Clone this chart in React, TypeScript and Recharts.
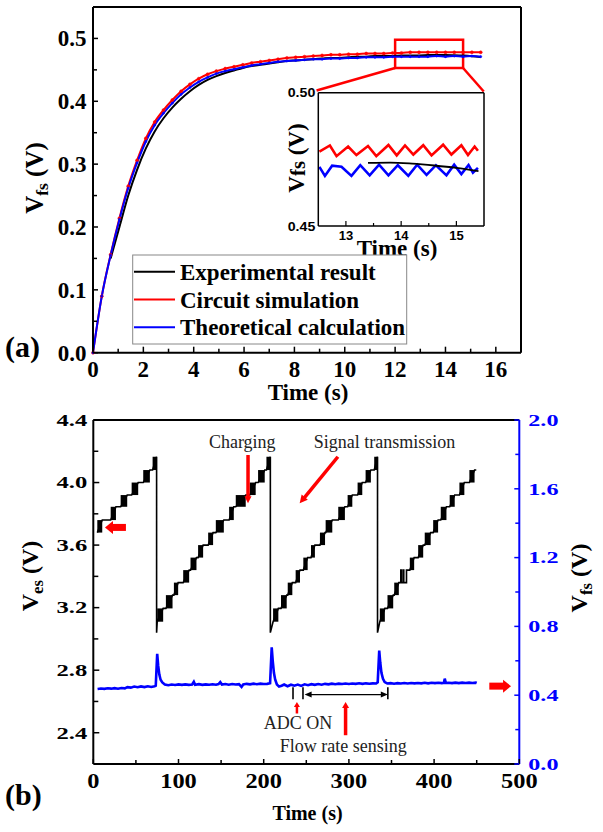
import React from 'react';
import {
  ComposedChart,
  Line,
  XAxis,
  YAxis,
  ReferenceArea,
  ReferenceLine,
  ReferenceDot,
} from 'recharts';

const serif = '"Liberation Serif", "Times New Roman", serif';
const sans = '"Liberation Sans", Arial, sans-serif';

// ---------- panel (a): step response of Vfs ----------
const tA = [0, 0.35, 0.7, 1.05, 1.4, 1.75, 2.1, 2.45, 2.8, 3.15, 3.5, 3.85, 4.2, 4.55, 4.9, 5.25, 5.6, 5.95, 6.3, 6.65, 7.0, 7.35, 7.7, 8.05, 8.4, 8.75, 9.1, 9.45, 9.8, 10.15, 10.5, 10.85, 11.2, 11.55, 11.9, 12.25, 12.6, 12.95, 13.3, 13.65, 14.0, 14.35, 14.7, 15.05, 15.4];
const experimental = [null, null, 0.150, 0.200, 0.250, 0.291, 0.325, 0.352, 0.373, 0.390, 0.404, 0.416, 0.426, 0.434, 0.440, 0.445, 0.449, 0.453, 0.456, 0.458, 0.460, 0.462, 0.464, 0.465, 0.466, 0.467, 0.468, 0.469, 0.469, 0.470, 0.471, 0.471, 0.472, 0.472, 0.472, 0.473, 0.473, 0.473, 0.4735, 0.4737, 0.4737, 0.4733, 0.4727, 0.4718, 0.4706];
const circuit = [0, 0.090, 0.156, 0.214, 0.265, 0.306, 0.341, 0.367, 0.386, 0.402, 0.416, 0.427, 0.436, 0.443, 0.448, 0.452, 0.455, 0.458, 0.461, 0.463, 0.465, 0.467, 0.469, 0.470, 0.471, 0.472, 0.473, 0.474, 0.474, 0.475, 0.475, 0.476, 0.476, 0.476, 0.477, 0.477, 0.478, 0.478, 0.478, 0.478, 0.478, 0.478, 0.478, 0.478, 0.478];
const theoretical = [0, 0.090, 0.155, 0.212, 0.262, 0.302, 0.336, 0.362, 0.381, 0.397, 0.411, 0.422, 0.431, 0.438, 0.444, 0.448, 0.451, 0.454, 0.457, 0.459, 0.461, 0.463, 0.464, 0.465, 0.466, 0.467, 0.467, 0.468, 0.468, 0.469, 0.469, 0.470, 0.470, 0.470, 0.471, 0.471, 0.471, 0.471, 0.471, 0.472, 0.471, 0.472, 0.471, 0.472, 0.471];

const xTicksA = [0, 1, 2, 3, 4, 5, 6, 7, 8, 9, 10, 11, 12, 13, 14, 15, 16];
const yTicksA = [0, 0.05, 0.1, 0.15, 0.2, 0.25, 0.3, 0.35, 0.4, 0.45, 0.5];

// inset (zoom of 12.5 - 15.5 s)
const insetCircuit = [[12.52, 0.4779], [12.71, 0.4802], [12.83, 0.4762], [13.04, 0.4798], [13.19, 0.4766], [13.40, 0.4800], [13.55, 0.4762], [13.77, 0.4804], [13.92, 0.4765], [14.07, 0.4802], [14.22, 0.4768], [14.40, 0.4803], [14.55, 0.4765], [14.76, 0.4805], [14.91, 0.4768], [15.09, 0.4803], [15.21, 0.4766], [15.33, 0.4798], [15.39, 0.4782]];
const insetTheory = [[12.52, 0.4722], [12.62, 0.4688], [12.75, 0.4726], [12.92, 0.4722], [13.10, 0.4688], [13.26, 0.4728], [13.43, 0.4690], [13.60, 0.4730], [13.77, 0.4690], [13.94, 0.4728], [14.13, 0.4688], [14.29, 0.4730], [14.46, 0.4692], [14.63, 0.4728], [14.82, 0.4690], [14.96, 0.4730], [15.09, 0.4695], [15.22, 0.4729], [15.30, 0.4700], [15.39, 0.4718]];
const insetExperimental = [[13.4, 0.4737], [13.8, 0.4738], [14.2, 0.4734], [14.6, 0.4727], [15.0, 0.4718], [15.4, 0.4706]];
const insetXTicks = [13, 13.5, 14, 14.5, 15];
const insetYTicks = [0.45, 0.5];

const zoomBox = { x1: 12.0, x2: 14.7, y1: 0.453, y2: 0.498 };
const zoomLinkLeft = [{ x: 12.0, y: 0.453 }, { x: 8.88, y: 0.4172 }];
const zoomLinkRight = [{ x: 14.7, y: 0.453 }, { x: 15.52, y: 0.4156 }];

const seriesA = [
  { key: 'experimental', name: 'Experimental result', color: '#000000' },
  { key: 'circuit', name: 'Circuit simulation', color: '#ff0000' },
  { key: 'theoretical', name: 'Theoretical calculation', color: '#0000ff' },
];

// ---------- panel (b): Ves staircase and Vfs ----------
// [start, end, low, high] of each charging step
const vesSteps = [
  [4.7, 10.5, 3.68, 3.76], [20.4, 26.6, 3.76, 3.845], [32.1, 39.8, 3.845, 3.92], [45.0, 52.7, 3.92, 4.0], [58.6, 66.4, 4.0, 4.08], [69.6, 74.3, 4.08, 4.165],
  [75.0, 82.0, 3.11, 3.195], [85.2, 93.0, 3.195, 3.28], [94.6, 99.6, 3.28, 3.36], [105.5, 112.5, 3.36, 3.44], [114.1, 121.1, 3.44, 3.52], [123.0, 128.9, 3.52, 3.6], [134.8, 140.6, 3.6, 3.68], [143.8, 153.2, 3.68, 3.76], [159.4, 164.9, 3.76, 3.845], [167.2, 178.9, 3.845, 3.92], [183.6, 190.6, 3.92, 4.0], [193.4, 201.2, 4.0, 4.08], [203.2, 207.8, 4.08, 4.165],
  [211.0, 217.2, 3.11, 3.195], [220.3, 227.0, 3.195, 3.28], [228.2, 233.6, 3.28, 3.36], [237.5, 242.6, 3.36, 3.44], [246.5, 251.6, 3.44, 3.52], [255.5, 260.1, 3.52, 3.6], [266.0, 272.0, 3.6, 3.68], [272.7, 280.5, 3.68, 3.76], [287.5, 295.3, 3.76, 3.845], [298.5, 304.0, 3.845, 3.92], [310.2, 315.7, 3.92, 4.0], [319.6, 325.8, 4.0, 4.08], [329.7, 333.6, 4.08, 4.165],
  [336.3, 342.2, 3.11, 3.195], [345.3, 352.0, 3.195, 3.28], [353.2, 358.6, 3.28, 3.36], [371.5, 376.6, 3.44, 3.52], [381.3, 387.2, 3.52, 3.6], [389.0, 396.0, 3.6, 3.68], [398.9, 404.7, 3.68, 3.76], [407.8, 414.5, 3.76, 3.845], [418.3, 424.2, 3.845, 3.92], [429.7, 435.5, 3.92, 4.0], [441.4, 447.5, 4.0, 4.08],
];
// [time, top, bottom] of each discharge
const vesDrops = [[74.3, 4.165, 3.04], [207.8, 4.165, 3.04], [333.6, 4.165, 3.04]];
// ringing between two levels in the last cycle
const vesGlitch = [[360.9, 3.36], [360.9, 3.44], [361.6, 3.44], [361.6, 3.36], [363.7, 3.36], [363.7, 3.44], [364.4, 3.44], [364.4, 3.36], [367.6, 3.36], [367.6, 3.44]];
const vesEnd = [449.5, 4.08];

const vfsB = [[5, 0.436], [9, 0.439], [13, 0.437], [17, 0.440], [21, 0.438], [25, 0.441], [29, 0.438], [33, 0.442], [37, 0.440], [40, 0.447], [44, 0.444], [48, 0.450], [52, 0.446], [56, 0.451], [60, 0.447], [64, 0.452], [68, 0.448], [72, 0.452], [73.3, 0.455], [75.0, 0.640], [76.2, 0.570], [77.5, 0.520], [79, 0.490], [81, 0.474], [84, 0.462], [88, 0.458], [92, 0.462], [96, 0.459], [100, 0.463], [104, 0.460], [108, 0.463], [112, 0.460], [116, 0.462], [118, 0.478], [119.5, 0.461], [124, 0.464], [128, 0.460], [132, 0.463], [136, 0.461], [140, 0.464], [144, 0.461], [147, 0.465], [149, 0.476], [151, 0.462], [155, 0.465], [159, 0.461], [163, 0.465], [167, 0.462], [171, 0.464], [174, 0.448], [176, 0.462], [180, 0.466], [184, 0.463], [188, 0.467], [192, 0.464], [196, 0.467], [200, 0.465], [204, 0.466], [207.5, 0.470], [209.4, 0.678], [210.6, 0.600], [212, 0.530], [213.5, 0.490], [215.5, 0.462], [218, 0.450], [221, 0.455], [224, 0.462], [228, 0.452], [232, 0.461], [236, 0.455], [240, 0.462], [244, 0.454], [248, 0.463], [252, 0.458], [256, 0.464], [260, 0.460], [264, 0.465], [268, 0.461], [272, 0.466], [276, 0.463], [280, 0.467], [284, 0.464], [288, 0.467], [292, 0.465], [296, 0.468], [300, 0.465], [304, 0.468], [308, 0.466], [312, 0.469], [316, 0.466], [320, 0.469], [324, 0.467], [328, 0.469], [332, 0.468], [333.8, 0.475], [335.6, 0.659], [336.8, 0.590], [338.2, 0.530], [340, 0.495], [342, 0.476], [345, 0.468], [349, 0.470], [353, 0.467], [357, 0.470], [361, 0.468], [365, 0.471], [369, 0.468], [373, 0.471], [377, 0.469], [381, 0.471], [385, 0.469], [389, 0.472], [393, 0.469], [397, 0.472], [401, 0.470], [405, 0.472], [409, 0.470], [411.5, 0.472], [412.5, 0.496], [413.8, 0.471], [417, 0.472], [421, 0.470], [425, 0.473], [429, 0.470], [433, 0.473], [437, 0.471], [441, 0.473], [445, 0.471], [449, 0.473], [450, 0.471]];

const xTicksB = [0, 50, 100, 150, 200, 250, 300, 350, 400, 450, 500];
const yTicksBLeft = [2.4, 2.6, 2.8, 3.0, 3.2, 3.4, 3.6, 3.8, 4.0, 4.2, 4.4];
const yTicksBRight = [0, 0.2, 0.4, 0.6, 0.8, 1.0, 1.2, 1.4, 1.6, 1.8, 2.0];

// annotations of panel (b), in data units of the left axis
const notesB = [
  { t: 174.8, v: 4.221, text: 'Charging' },
  { t: 341.8, v: 4.221, text: 'Signal transmission' },
  { t: 240.2, v: 2.427, text: 'ADC ON' },
  { t: 293.5, v: 2.277, text: 'Flow rate sensing' },
];
const redArrowsB = [
  { from: [181.6, 4.176], to: [181.6, 3.867], w: 3.5, hl: 7, hw: 7 },
  { from: [287.1, 4.165], to: [242.2, 3.867], w: 3.5, hl: 8, hw: 8 },
  { from: [38.3, 3.713], to: [13.7, 3.713], w: 7, hl: 8, hw: 13 },
  { from: [464.8, 2.698], to: [490.3, 2.698], w: 7, hl: 8, hw: 13 },
  { from: [239, 2.523], to: [239, 2.597], w: 2.5, hl: 5, hw: 6 },
  { from: [296.1, 2.384], to: [296.1, 2.597], w: 3.5, hl: 6, hw: 7 },
];
const markerTimes = [234.4, 246.1, 345.7];
const sensingSpan = [248, 345.7];

// ---------- helpers ----------
const rowsA = tA.map((t, i) => ({
  t,
  experimental: experimental[i],
  circuit: circuit[i],
  theoretical: theoretical[i],
}));
const toPts = (arr: number[][]) => arr.map(([t, v]) => ({ t, v }));

const vesLine = (() => {
  const pts: { t: number; v: number }[] = [];
  vesSteps.forEach(([a, b, lo, hi]) => {
    pts.push({ t: a, v: lo }, { t: b, v: hi });
  });
  vesDrops.forEach(([t, top, bot]) => {
    pts.push({ t, v: top }, { t, v: bot });
  });
  vesGlitch.forEach(([t, v]) => pts.push({ t, v }));
  pts.push({ t: vesEnd[0], v: vesEnd[1] });
  return pts.sort((p, q) => p.t - q.t);
})();

interface TickStyle {
  side: 'bottom' | 'left' | 'right';
  major: (v: number) => boolean;
  fmt: (v: number) => string;
  fontSize: number;
  font: string;
  color: string;
  lineColor: string;
  majorLen: number;
  minorLen: number;
  offset: number;
  sx?: number;
  lw?: number;
}

function makeTick(s: TickStyle) {
  return (props: any) => {
    const { x, y, payload } = props;
    const v = Number(payload.value);
    const isMajor = s.major(v);
    const len = isMajor ? s.majorLen : s.minorLen;
    const sx = s.sx ?? 1;
    const txt = { fontFamily: s.font, fontSize: s.fontSize, fontWeight: 700, fill: s.color };
    if (s.side === 'bottom') {
      return (
        <g>
          {len > 0 && <line x1={x} y1={y} x2={x} y2={y - len} stroke={s.lineColor} strokeWidth={s.lw ?? 1.5} />}
          {isMajor && (
            <text transform={`translate(${x},${y + s.offset}) scale(${sx},1)`} textAnchor="middle" {...txt}>
              {s.fmt(v)}
            </text>
          )}
        </g>
      );
    }
    const dir = s.side === 'left' ? 1 : -1;
    return (
      <g>
        {len > 0 && <line x1={x} y1={y} x2={x + dir * len} y2={y} stroke={s.lineColor} strokeWidth={s.lw ?? 1.5} />}
        {isMajor && (
          <text
            transform={`translate(${x - dir * s.offset},${y}) scale(${sx},1)`}
            textAnchor={s.side === 'left' ? 'end' : 'start'}
            dy="0.34em"
            {...txt}
          >
            {s.fmt(v)}
          </text>
        )}
      </g>
    );
  };
}

const arrowShape = (w: number, hl: number, hw: number, color: string, both = false) => (p: any) => {
  const { x1, y1, x2, y2 } = p;
  const dx = x2 - x1;
  const dy = y2 - y1;
  const L = Math.hypot(dx, dy) || 1;
  const ux = dx / L;
  const uy = dy / L;
  const nx = -uy;
  const ny = ux;
  const head = (tx: number, ty: number, sx: number, sy: number) => {
    const bx = tx - sx * hl;
    const by = ty - sy * hl;
    return `${tx},${ty} ${bx + nx * hw / 2},${by + ny * hw / 2} ${bx - nx * hw / 2},${by - ny * hw / 2}`;
  };
  const sx0 = both ? x1 + ux * hl * 0.9 : x1;
  const sy0 = both ? y1 + uy * hl * 0.9 : y1;
  return (
    <g>
      <line x1={sx0} y1={sy0} x2={x2 - ux * hl * 0.9} y2={y2 - uy * hl * 0.9} stroke={color} strokeWidth={w} />
      <polygon points={head(x2, y2, ux, uy)} fill={color} />
      {both && <polygon points={head(x1, y1, -ux, -uy)} fill={color} />}
    </g>
  );
};

const noteShape = (text: string) => (p: any) => (
  <text x={p.cx} y={p.cy} textAnchor="middle" fontFamily={serif} fontSize={18} fill="#222">
    {text}
  </text>
);

const axisLine = { stroke: '#000', strokeWidth: 2 };

// ---------- charts ----------
function PanelA() {
  return (
    <ComposedChart width={603} height={400} data={rowsA} margin={{ top: 7, right: 82, bottom: 17.3, left: 33 }}>
      <XAxis
        type="number"
        dataKey="t"
        domain={[0, 17]}
        ticks={xTicksA}
        interval={0}
        height={30}
        tickSize={0}
        tickMargin={0}
        tickLine={false}
        axisLine={axisLine}
        tick={makeTick({ side: 'bottom', major: (v) => v % 2 === 0, fmt: (v) => String(v), fontSize: 23, font: serif, color: '#000', lineColor: '#000', majorLen: 6, minorLen: 4, offset: 24, sx: 1 })}
      />
      <YAxis
        type="number"
        domain={[0, 0.55]}
        ticks={yTicksA}
        interval={0}
        width={60}
        tickSize={0}
        tickMargin={0}
        tickLine={false}
        axisLine={axisLine}
        tick={makeTick({ side: 'left', major: (v) => Math.round(v * 100) % 10 === 0, fmt: (v) => v.toFixed(1), fontSize: 23, font: serif, color: '#000', lineColor: '#000', majorLen: 5, minorLen: 4, offset: 6.5 })}
      />
      <ReferenceLine y={0.55} stroke="#000" strokeWidth={2} ifOverflow="visible" />
      <ReferenceLine x={17} stroke="#000" strokeWidth={2} ifOverflow="visible" />
      <Line type="monotone" dataKey="experimental" stroke="#000" strokeWidth={2} dot={false} isAnimationActive={false} />
      <Line type="monotone" dataKey="circuit" stroke="#ff0000" strokeWidth={2} dot={{ r: 1.5, fill: '#ff0000', stroke: '#ff0000', strokeWidth: 0.5 }} isAnimationActive={false} />
      <Line type="monotone" dataKey="theoretical" stroke="#0000ff" strokeWidth={2} dot={{ r: 1.1, fill: '#0000ff', stroke: '#0000ff', strokeWidth: 0.5 }} isAnimationActive={false} />
      <ReferenceArea {...zoomBox} fill="none" stroke="#ff0000" strokeWidth={2.5} ifOverflow="visible" />
      <ReferenceLine segment={zoomLinkLeft} stroke="#ff0000" strokeWidth={2.5} ifOverflow="visible" />
      <ReferenceLine segment={zoomLinkRight} stroke="#ff0000" strokeWidth={2.5} ifOverflow="visible" />
    </ComposedChart>
  );
}

function InsetA() {
  return (
    <ComposedChart width={240} height={170} margin={{ top: 12.7, right: 14, bottom: 4, left: 20.3 }}>
      <XAxis
        type="number"
        dataKey="t"
        domain={[12.5, 15.5]}
        ticks={insetXTicks}
        interval={0}
        height={20}
        tickSize={0}
        tickMargin={0}
        tickLine={false}
        axisLine={{ stroke: '#000', strokeWidth: 1.5 }}
        tick={makeTick({ side: 'bottom', major: (v) => Number.isInteger(v), fmt: (v) => String(v), fontSize: 13, font: sans, color: '#000', lineColor: '#000', majorLen: 5, minorLen: 3, offset: 13.8, lw: 1.2 })}
      />
      <YAxis
        type="number"
        domain={[0.45, 0.5]}
        ticks={insetYTicks}
        interval={0}
        width={40}
        tickSize={0}
        tickMargin={0}
        tickLine={false}
        axisLine={{ stroke: '#000', strokeWidth: 1.5 }}
        tick={makeTick({ side: 'left', major: () => true, fmt: (v) => v.toFixed(2), fontSize: 13.5, font: sans, color: '#000', lineColor: '#000', majorLen: 0, minorLen: 0, offset: 3, sx: 1.05 })}
      />
      <ReferenceLine y={0.5} stroke="#000" strokeWidth={1.5} ifOverflow="visible" />
      <ReferenceLine x={15.5} stroke="#000" strokeWidth={1.5} ifOverflow="visible" />
      <Line data={toPts(insetCircuit)} dataKey="v" type="linear" stroke="#ff0000" strokeWidth={2.6} dot={false} isAnimationActive={false} />
      <Line data={toPts(insetTheory)} dataKey="v" type="linear" stroke="#0000ff" strokeWidth={2.6} dot={false} isAnimationActive={false} />
      <Line data={toPts(insetExperimental)} dataKey="v" type="monotone" stroke="#000" strokeWidth={1.8} dot={false} isAnimationActive={false} />
    </ComposedChart>
  );
}

function PanelB() {
  return (
    <ComposedChart width={603} height={432} margin={{ top: 20, right: 23.7, bottom: 38, left: 33.3 }}>
      <XAxis
        type="number"
        dataKey="t"
        domain={[0, 500]}
        ticks={xTicksB}
        interval={0}
        height={30}
        tickSize={0}
        tickMargin={0}
        tickLine={false}
        axisLine={axisLine}
        tick={makeTick({ side: 'bottom', major: (v) => v % 100 === 0, fmt: (v) => String(v), fontSize: 20, font: serif, color: '#000', lineColor: '#000', majorLen: 5, minorLen: 4, offset: 24.3, sx: 1.22 })}
      />
      <YAxis
        yAxisId="left"
        type="number"
        domain={[2.2, 4.4]}
        ticks={yTicksBLeft}
        interval={0}
        width={60}
        tickSize={0}
        tickMargin={0}
        tickLine={false}
        axisLine={axisLine}
        tick={makeTick({ side: 'left', major: (v) => Math.round(v * 10) % 4 === 0, fmt: (v) => v.toFixed(1), fontSize: 17, font: serif, color: '#000', lineColor: '#000', majorLen: 6, minorLen: 5, offset: 6, sx: 1.45 })}
      />
      <YAxis
        yAxisId="right"
        orientation="right"
        type="number"
        domain={[0, 2]}
        ticks={yTicksBRight}
        interval={0}
        width={60}
        tickSize={0}
        tickMargin={0}
        tickLine={false}
        axisLine={{ stroke: '#0000ff', strokeWidth: 2 }}
        tick={makeTick({ side: 'right', major: (v) => Math.round(v * 10) % 4 === 0, fmt: (v) => v.toFixed(1), fontSize: 17, font: serif, color: '#0000ff', lineColor: '#0000ff', majorLen: 5, minorLen: 4, offset: 9, sx: 1.42 })}
      />
      <ReferenceLine yAxisId="left" y={4.4} stroke="#000" strokeWidth={2} ifOverflow="visible" />
      {vesSteps.map(([a, b, lo, hi], i) => (
        <ReferenceArea key={`s${i}`} yAxisId="left" x1={a} x2={b} y1={lo} y2={hi} fill="#000" fillOpacity={1} stroke="none" />
      ))}
      <Line data={vesLine} yAxisId="left" dataKey="v" type="linear" stroke="#000" strokeWidth={1.6} dot={false} isAnimationActive={false} />
      <Line data={toPts(vfsB)} yAxisId="right" dataKey="v" type="linear" stroke="#0000ff" strokeWidth={2.6} dot={false} isAnimationActive={false} />
      {markerTimes.map((t, i) => (
        <ReferenceLine key={`m${i}`} yAxisId="left" segment={[{ x: t, y: 2.691 }, { x: t, y: 2.614 }]} stroke="#000" strokeWidth={1.6} />
      ))}
      <ReferenceLine
        yAxisId="left"
        segment={[{ x: sensingSpan[0], y: 2.644 }, { x: sensingSpan[1], y: 2.644 }]}
        shape={arrowShape(1.3, 7, 6, '#000', true)}
      />
      {redArrowsB.map((a, i) => (
        <ReferenceLine
          key={`a${i}`}
          yAxisId="left"
          segment={[{ x: a.from[0], y: a.from[1] }, { x: a.to[0], y: a.to[1] }]}
          shape={arrowShape(a.w, a.hl, a.hw, '#ff0000')}
        />
      ))}
      {notesB.map((n, i) => (
        <ReferenceDot key={`n${i}`} yAxisId="left" x={n.t} y={n.v} r={0} shape={noteShape(n.text)} />
      ))}
    </ComposedChart>
  );
}

function VLabel({ x, y, main, sub, size, subScale = 0.7, subDy = 0.3 }: any) {
  return (
    <text transform={`translate(${x},${y}) rotate(-90)`} textAnchor="middle" fontFamily={serif} fontWeight={700} fontSize={size} fill="#000">
      <tspan>{main}</tspan>
      <tspan fontSize={size * subScale} dy={`${subDy}em`}>{sub}</tspan>
      <tspan dy={`${-subDy * subScale}em`}> (V)</tspan>
    </text>
  );
}

export default function App() {
  const legendTop = 255;
  const rowGap = 27.8;
  return (
    <div style={{ position: 'absolute', left: 0, top: 0, width: 603, height: 832, background: '#fff', overflow: 'hidden' }}>
      <div style={{ position: 'absolute', left: 0, top: 0 }}>
        <PanelA />
      </div>
      <div style={{ position: 'absolute', left: 258, top: 80 }}>
        <InsetA />
      </div>
      <div style={{ position: 'absolute', left: 0, top: 400 }}>
        <PanelB />
      </div>
      <svg width={603} height={832} style={{ position: 'absolute', left: 0, top: 0, pointerEvents: 'none' }}>
        <text x={5} y={357} fontFamily={serif} fontWeight={700} fontSize={30}>(a)</text>
        <text x={5} y={805} fontFamily={serif} fontWeight={700} fontSize={30}>(b)</text>
        <VLabel x={43} y={178} main="V" sub="fs" size={25} />
        <text x={308} y={400} textAnchor="middle" fontFamily={serif} fontWeight={700} fontSize={23}>Time (s)</text>
        <VLabel x={304} y={158} main="V" sub="fs" size={23} subScale={0.9} subDy={0.05} />
        <text x={397} y={256} textAnchor="middle" fontFamily={serif} fontWeight={700} fontSize={23}>Time (s)</text>
        <rect x={132.7} y={legendTop} width={274} height={89} fill="#fff" stroke="#888" strokeWidth={1} />
        {seriesA.map((s, i) => (
          <g key={s.key}>
            <line x1={134} x2={175} y1={legendTop + 16.7 + i * rowGap} y2={legendTop + 16.7 + i * rowGap} stroke={s.color} strokeWidth={2} />
            <text x={180} y={legendTop + 16.7 + i * rowGap + 8} fontFamily={serif} fontWeight={700} fontSize={23}>{s.name}</text>
          </g>
        ))}
        <VLabel x={38} y={576} main="V" sub="es" size={24} />
        <VLabel x={587} y={578} main="V" sub="fs" size={24} />
        <text x={307.5} y={820} textAnchor="middle" fontFamily={serif} fontWeight={700} fontSize={20}>Time (s)</text>
      </svg>
    </div>
  );
}
